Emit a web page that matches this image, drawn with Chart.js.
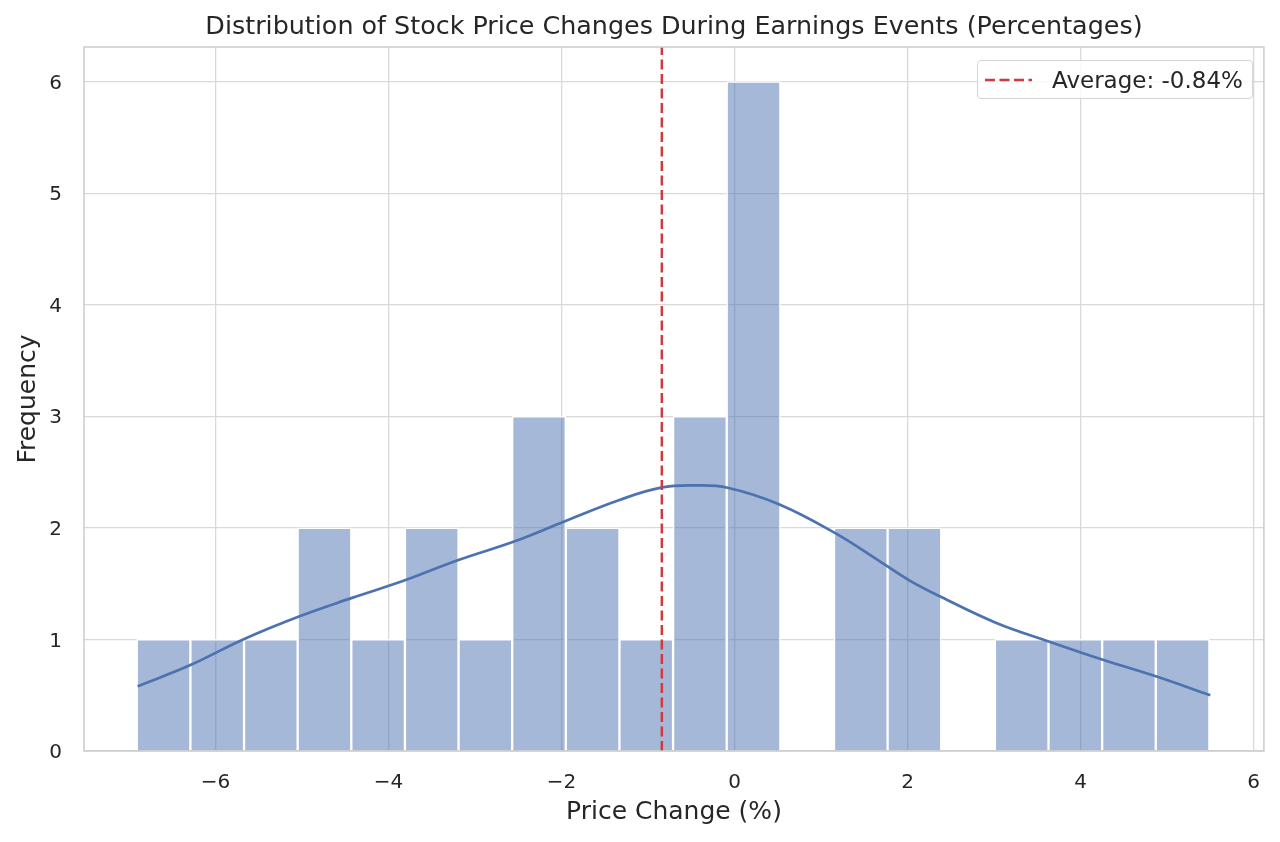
<!DOCTYPE html>
<html>
<head>
<meta charset="utf-8">
<title>Distribution of Stock Price Changes</title>
<script src="https://cdn.jsdelivr.net/npm/chart.js@4.4.0/dist/chart.umd.min.js"></script>
<style>
  html, body { margin: 0; padding: 0; background: #fff; }
  #wrap { position: relative; width: 1280px; height: 842px; }
  #legend {
    position: absolute; left: 977px; top: 60px; width: 276px; height: 39px;
    box-sizing: border-box; border: 1px solid #d4d4d4; border-radius: 4px;
    background: rgba(255,255,255,0.8);
    font-family: "DejaVu Sans", sans-serif; font-size: 23px; color: #262626;
    display: flex; align-items: center; white-space: nowrap;
  }
  #legend svg { margin-left: 7px; margin-right: 20px; }
</style>
</head>
<body>
<div id="wrap">
  <canvas id="grafico" width="1280" height="842"></canvas>
  <div id="legend">
    <svg width="47" height="6"><line x1="0" y1="3" x2="47" y2="3" stroke="#d03a3f" stroke-width="2.5" stroke-dasharray="10 4.5"/></svg>
    <span>Average: -0.84%</span>
  </div>
</div>
<script>
// bins del histograma (centro de cada bin) y sus conteos
const binCenters = [-6.60, -5.98, -5.36, -4.74, -4.12, -3.50, -2.88, -2.26, -1.64, -1.02,
                    -0.40, 0.22, 0.84, 1.46, 2.08, 2.70, 3.32, 3.94, 4.56, 5.18];
const binCounts = [1, 1, 1, 2, 1, 2, 1, 3, 2, 1, 3, 6, 0, 2, 2, 0, 1, 1, 1, 1];

// curva KDE
const kdeX = [-6.90, -6.29, -5.68, -5.02, -4.43, -3.81, -3.20, -2.54, -1.96, -1.33,
              -0.85, -0.46, -0.08, 0.52, 1.17, 1.68, 2.02, 2.39, 3.02, 3.64, 4.25, 4.87, 5.50];
const kdeY = [0.58, 0.77, 1.00, 1.21, 1.37, 1.53, 1.71, 1.88, 2.06, 2.25,
              2.36, 2.38, 2.36, 2.21, 1.95, 1.70, 1.53, 1.38, 1.15, 0.98, 0.82, 0.67, 0.50];

const averageChange = -0.84;
const xTicks = [-6, -4, -2, 0, 2, 4, 6];
const yTicks = [0, 1, 2, 3, 4, 5, 6];
const xRange = [-7.52, 6.12];
const yRange = [0, 6.31];

const chartTitle = 'Distribution of Stock Price Changes During Earnings Events (Percentages)';
const textColor = '#262626';
const gridColor = '#d9d9d9';
const spineColor = '#cccccc';

Chart.defaults.font.family = "'DejaVu Sans', sans-serif";
Chart.defaults.color = textColor;

// marco completo (spines) y titulo centrado sobre el area del grafico
const framePlugin = {
  id: 'frame',
  afterDatasetsDraw(chart) {
    const { ctx, chartArea: a } = chart;
    ctx.save();
    ctx.strokeStyle = spineColor;
    ctx.lineWidth = 1.5;
    ctx.strokeRect(a.left, a.top, a.right - a.left, a.bottom - a.top);
    ctx.restore();
  },
  afterDraw(chart) {
    const { ctx, chartArea: a } = chart;
    ctx.save();
    ctx.fillStyle = textColor;
    ctx.font = "25.4px 'DejaVu Sans', sans-serif";
    ctx.textAlign = 'center';
    ctx.textBaseline = 'middle';
    ctx.fillText(chartTitle, (a.left + a.right) / 2, 27.5);
    ctx.restore();
  }
};

const ctx = document.getElementById('grafico').getContext('2d');
new Chart(ctx, {
  type: 'bar',
  data: {
    datasets: [
      {
        type: 'line',
        label: 'Average',
        data: [{ x: averageChange, y: yRange[0] }, { x: averageChange, y: yRange[1] }],
        borderColor: '#d03a3f',
        borderWidth: 2.5,
        borderDash: [10, 4.5],
        pointRadius: 0,
        order: 1
      },
      {
        type: 'line',
        label: 'KDE',
        data: kdeX.map((x, i) => ({ x: x, y: kdeY[i] })),
        borderColor: '#4C72B0',
        borderWidth: 2.7,
        pointRadius: 0,
        tension: 0.4,
        order: 2
      },
      {
        type: 'bar',
        label: 'Frequency',
        data: binCenters.map((x, i) => ({ x: x, y: binCounts[i] })),
        backgroundColor: 'rgba(76,114,176,0.5)',
        borderColor: '#ffffff',
        borderWidth: 1.5,
        borderSkipped: 'start',
        barPercentage: 1,
        categoryPercentage: 1,
        order: 3
      }
    ]
  },
  options: {
    responsive: false,
    animation: false,
    layout: { padding: { left: 0, right: 13, top: 47, bottom: 0 } },
    plugins: {
      legend: { display: false },
      tooltip: { enabled: false },
      title: { display: false }
    },
    scales: {
      x: {
        type: 'linear',
        min: xRange[0],
        max: xRange[1],
        offset: false,
        grid: { color: gridColor, lineWidth: 1.3, drawTicks: false, offset: false },
        border: { display: false },
        ticks: {
          padding: 20,
          font: { size: 20 },
          color: textColor,
          callback: v => (v < 0 ? '\u2212' + Math.abs(v) : String(v))
        },
        afterBuildTicks: scale => { scale.ticks = xTicks.map(v => ({ value: v })); },
        afterFit: scale => { scale.height = 91; },
        title: {
          display: true,
          text: 'Price Change (%)',
          color: textColor,
          font: { size: 25 },
          padding: { top: 0, bottom: 15 }
        }
      },
      y: {
        min: yRange[0],
        max: yRange[1],
        grid: { color: gridColor, lineWidth: 1.3, drawTicks: false },
        border: { display: false },
        ticks: { padding: 22, labelOffset: 2, font: { size: 20 }, color: textColor },
        afterBuildTicks: scale => { scale.ticks = yTicks.map(v => ({ value: v })); },
        afterFit: scale => { scale.width = 84; },
        title: {
          display: true,
          text: 'Frequency',
          color: textColor,
          font: { size: 25 },
          padding: { top: 13, bottom: 0 }
        }
      }
    }
  },
  plugins: [framePlugin]
});
</script>
</body>
</html>
